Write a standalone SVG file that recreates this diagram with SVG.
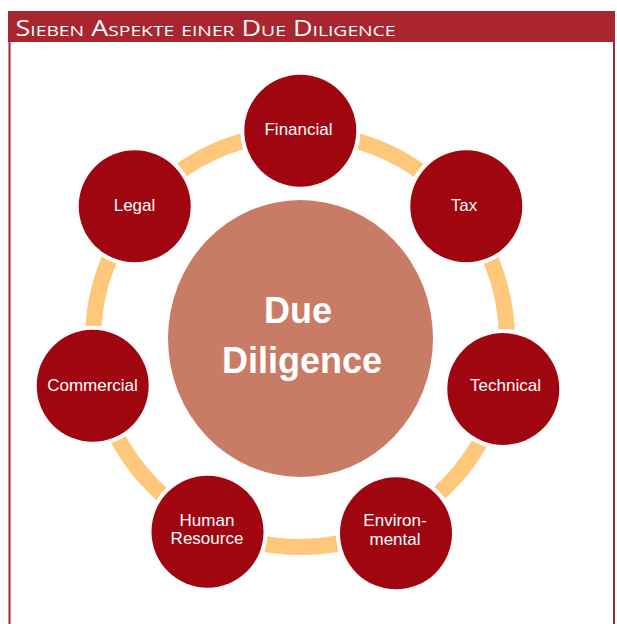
<svg xmlns="http://www.w3.org/2000/svg" width="617" height="624" viewBox="0 0 617 624">
  <style>
    .frame { fill: #ffffff; stroke: #A9262E; stroke-width: 2; }
    .title { fill: #ffffff; font-family: "Open Sans", "Liberation Sans", sans-serif; font-size: 21px; font-variant: small-caps; }
    .ring { fill: none; stroke: #FEC77A; stroke-width: 16; }
    .aspect { fill: #A0060F; stroke: #ffffff; stroke-width: 8; paint-order: stroke; }
    .core { fill: #C97C65; }
    .lbl { fill: #ffffff; font-family: "Liberation Sans", Arial, sans-serif; font-size: 17px; text-anchor: middle; }
    .big { fill: #ffffff; font-family: "Liberation Sans", Arial, sans-serif; font-size: 36px; font-weight: bold; text-anchor: middle; }
  </style>

  <!-- panel frame and title bar -->
  <g id="panel">
    <rect class="frame" x="9.5" y="12" width="604.5" height="620"/>
    <rect x="8" y="11" width="607" height="31" fill="#A9262E"/>
    <text class="title" x="15.5" y="36" textLength="380" lengthAdjust="spacingAndGlyphs">Sieben Aspekte einer Due Diligence</text>
  </g>

  <!-- connecting band behind the aspect circles -->
  <g id="connectors">
    <circle class="ring" cx="300" cy="340" r="207"/>
  </g>

  <g id="core">
    <ellipse class="core" cx="300.5" cy="338.5" rx="132.5" ry="138.5"/>
    <text class="big" x="298" y="322.7">Due</text>
    <text class="big" x="302" y="372.7">Diligence</text>
  </g>

  <g id="financial">
    <circle class="aspect" cx="300.3" cy="130.8" r="56"/>
    <text class="lbl" x="298.5" y="134.5">Financial</text>
  </g>
  <g id="tax">
    <circle class="aspect" cx="466.3" cy="206.3" r="56"/>
    <text class="lbl" x="464" y="210.5">Tax</text>
  </g>
  <g id="technical">
    <circle class="aspect" cx="503.3" cy="389" r="56"/>
    <text class="lbl" x="505.5" y="391">Technical</text>
  </g>
  <g id="environmental">
    <circle class="aspect" cx="396" cy="533.3" r="56"/>
    <text class="lbl" x="395" y="525.5">Environ-</text>
    <text class="lbl" x="395" y="545">mental</text>
  </g>
  <g id="human-resource">
    <circle class="aspect" cx="207.5" cy="531.7" r="56"/>
    <text class="lbl" x="207" y="525.7">Human</text>
    <text class="lbl" x="207" y="544.3">Resource</text>
  </g>
  <g id="commercial">
    <circle class="aspect" cx="92.7" cy="385.8" r="56"/>
    <text class="lbl" x="92.5" y="390.5">Commercial</text>
  </g>
  <g id="legal">
    <circle class="aspect" cx="134.7" cy="206.3" r="56"/>
    <text class="lbl" x="134.5" y="211">Legal</text>
  </g>
</svg>
